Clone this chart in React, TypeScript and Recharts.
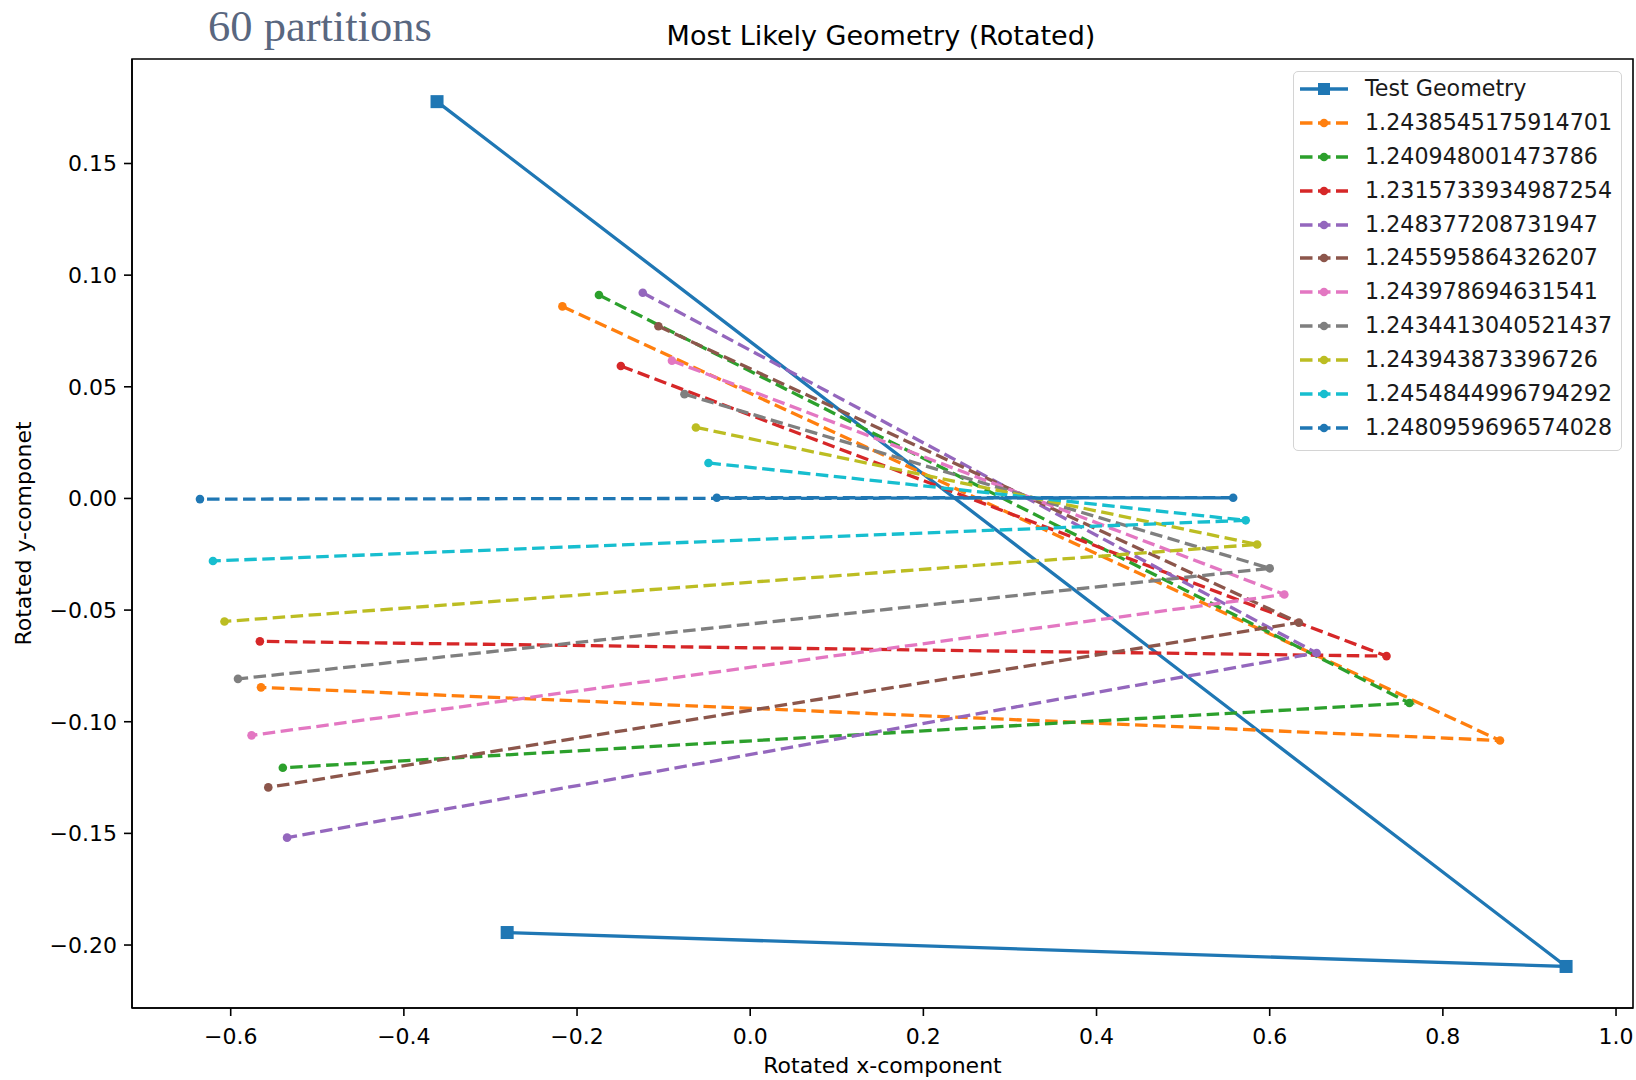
import { ScatterChart, Scatter, XAxis, YAxis, ReferenceArea, Label, Legend } from 'recharts'

// series names as they appear in the legend
const seriesNames = [
  'Test Geometry',
  '1.2438545175914701',
  '1.240948001473786',
  '1.2315733934987254',
  '1.248377208731947',
  '1.245595864326207',
  '1.243978694631541',
  '1.2434413040521437',
  '1.243943873396726',
  '1.2454844996794292',
  '1.2480959696574028',
]

// three vertices per series, joined in this order
const seriesX = [
  [-0.3617, 0.9423, -0.2807],
  [-0.2169, 0.866, -0.565],
  [-0.1747, 0.7614, -0.5398],
  [-0.1494, 0.7349, -0.5663],
  [-0.1241, 0.6542, -0.5349],
  [-0.106, 0.6337, -0.5566],
  [-0.0904, 0.6169, -0.5759],
  [-0.0759, 0.6, -0.5916],
  [-0.0627, 0.5855, -0.6072],
  [-0.0482, 0.5723, -0.6205],
  [-0.0386, 0.5578, -0.6355],
]

const seriesY = [
  [0.1777, -0.2096, -0.1944],
  [0.086, -0.1084, -0.0846],
  [0.0911, -0.0916, -0.1206],
  [0.0593, -0.0706, -0.064],
  [0.0921, -0.0692, -0.1519],
  [0.0771, -0.0556, -0.1294],
  [0.0617, -0.043, -0.1061],
  [0.0467, -0.0313, -0.0808],
  [0.0318, -0.0206, -0.0551],
  [0.0159, -0.0098, -0.028],
  [0.0003, 0.0003, -0.0003],
]

const xTicks = [-0.6, -0.4, -0.2, 0, 0.2, 0.4, 0.6, 0.8, 1.0]
const yTicks = [-0.2, -0.15, -0.1, -0.05, 0, 0.05, 0.1, 0.15]
const xDomain = [-0.714, 1.0196]
const yDomain = [-0.2282, 0.1968]

const colors = [
  '#1f77b4', '#ff7f0e', '#2ca02c', '#d62728', '#9467bd', '#8c564b',
  '#e377c2', '#7f7f7f', '#bcbd22', '#17becf', '#1f77b4',
]

const DASH = '12.5 5.5'
const LW = 3.3

const fmt = (digits: number) => (v: number) => {
  const s = Math.abs(v).toFixed(digits)
  return v < -1e-9 ? '\u2212' + s : s
}

function LegendBox() {
  return (
    <div
      style={{
        border: '1px solid #d4d4d4',
        borderRadius: 5,
        background: 'rgba(255,255,255,0.8)',
        paddingBottom: 5,
        width: 327,
        boxSizing: 'content-box',
      }}
    >
      {seriesNames.map((name, i) => (
        <div key={name} style={{ display: 'flex', alignItems: 'center', height: 33.9 }}>
          <svg width={48} height={20} style={{ marginLeft: 6, overflow: 'visible', flexShrink: 0 }}>
            <line
              x1={0}
              x2={48}
              y1={10}
              y2={10}
              stroke={colors[i]}
              strokeWidth={LW}
              strokeDasharray={i === 0 ? undefined : DASH}
            />
            {i === 0 ? (
              <rect x={18} y={4} width={12} height={12} fill={colors[0]} />
            ) : (
              <circle cx={24} cy={10} r={4.3} fill={colors[i]} />
            )}
          </svg>
          <span
            style={{
              marginLeft: 17,
              fontSize: 22.2,
              lineHeight: '33.9px',
              color: '#1a1a1a',
              whiteSpace: 'nowrap',
            }}
          >
            {name}
          </span>
        </div>
      ))}
    </div>
  )
}

export default function App() {
  const series = seriesNames.map((name, i) => ({
    name,
    color: colors[i],
    points: seriesX[i].map((x, j) => ({ x, y: seriesY[i][j] })),
  }))

  return (
    <div
      style={{
        position: 'absolute',
        left: 0,
        top: 0,
        width: 1636,
        height: 1080,
        background: '#fff',
        fontFamily: '"DejaVu Sans", sans-serif',
        overflow: 'hidden',
      }}
    >
      <div
        style={{
          position: 'absolute',
          left: 208,
          top: 0,
          fontFamily: '"Liberation Serif", serif',
          fontSize: 44.5,
          lineHeight: 'normal',
          color: '#59677f',
          whiteSpace: 'nowrap',
        }}
      >
        60 partitions
      </div>
      <div
        style={{
          position: 'absolute',
          left: 881,
          top: 22.3,
          transform: 'translateX(-50%)',
          fontSize: 27,
          lineHeight: '27px',
          color: '#000',
          whiteSpace: 'nowrap',
        }}
      >
        Most Likely Geometry (Rotated)
      </div>

      <ScatterChart width={1636} height={1080} margin={{ top: 59, right: 3, bottom: 0, left: 0 }}>
        <XAxis
          type="number"
          dataKey="x"
          domain={xDomain}
          ticks={xTicks}
          allowDataOverflow
          tickFormatter={fmt(1)}
          height={72}
          tickSize={8}
          tickMargin={12}
          tick={{ fontSize: 22, fill: '#000' }}
          tickLine={{ stroke: '#000', strokeWidth: 1.6 }}
          axisLine={{ stroke: '#000', strokeWidth: 1.6 }}
        >
          <Label value="Rotated x-component" position="insideBottom" offset={7} style={{ fontSize: 22, fill: '#000' }} />
        </XAxis>
        <YAxis
          type="number"
          dataKey="y"
          domain={yDomain}
          ticks={yTicks}
          allowDataOverflow
          tickFormatter={fmt(2)}
          width={132}
          tickSize={8}
          tickMargin={7}
          tick={{ fontSize: 22, fill: '#000' }}
          tickLine={{ stroke: '#000', strokeWidth: 1.6 }}
          axisLine={{ stroke: '#000', strokeWidth: 1.6 }}
        >
          <Label
            content={(props: any) => {
              const vb = props.viewBox || {}
              const cx = 23
              const cy = vb.y + vb.height / 2
              return (
                <text
                  x={cx}
                  y={cy}
                  transform={`rotate(-90, ${cx}, ${cy})`}
                  textAnchor="middle"
                  dy="0.355em"
                  fontSize={22}
                  fill="#000"
                >
                  Rotated y-componet
                </text>
              )
            }}
          />
        </YAxis>

        {series.map((s, i) => (
          <Scatter
            key={s.name}
            name={s.name}
            data={s.points}
            fill={s.color}
            line={{
              stroke: s.color,
              strokeWidth: LW,
              strokeDasharray: i === 0 ? undefined : DASH,
            }}
            lineType="joint"
            isAnimationActive={false}
            shape={(p: any) =>
              i === 0 ? (
                <rect x={p.cx - 6.5} y={p.cy - 6.5} width={13} height={13} fill={s.color} />
              ) : (
                <circle cx={p.cx} cy={p.cy} r={4.3} fill={s.color} />
              )
            }
          />
        ))}

        <ReferenceArea
          x1={xDomain[0]}
          x2={xDomain[1]}
          y1={yDomain[0]}
          y2={yDomain[1]}
          fill="none"
          stroke="#000"
          strokeWidth={1.6}
          ifOverflow="visible"
        />

        <Legend
          layout="horizontal"
          verticalAlign="middle"
          align="center"
          content={() => <LegendBox />}
          wrapperStyle={{ left: 1293, top: 71, width: 'auto', height: 'auto' }}
        />
      </ScatterChart>
    </div>
  )
}
